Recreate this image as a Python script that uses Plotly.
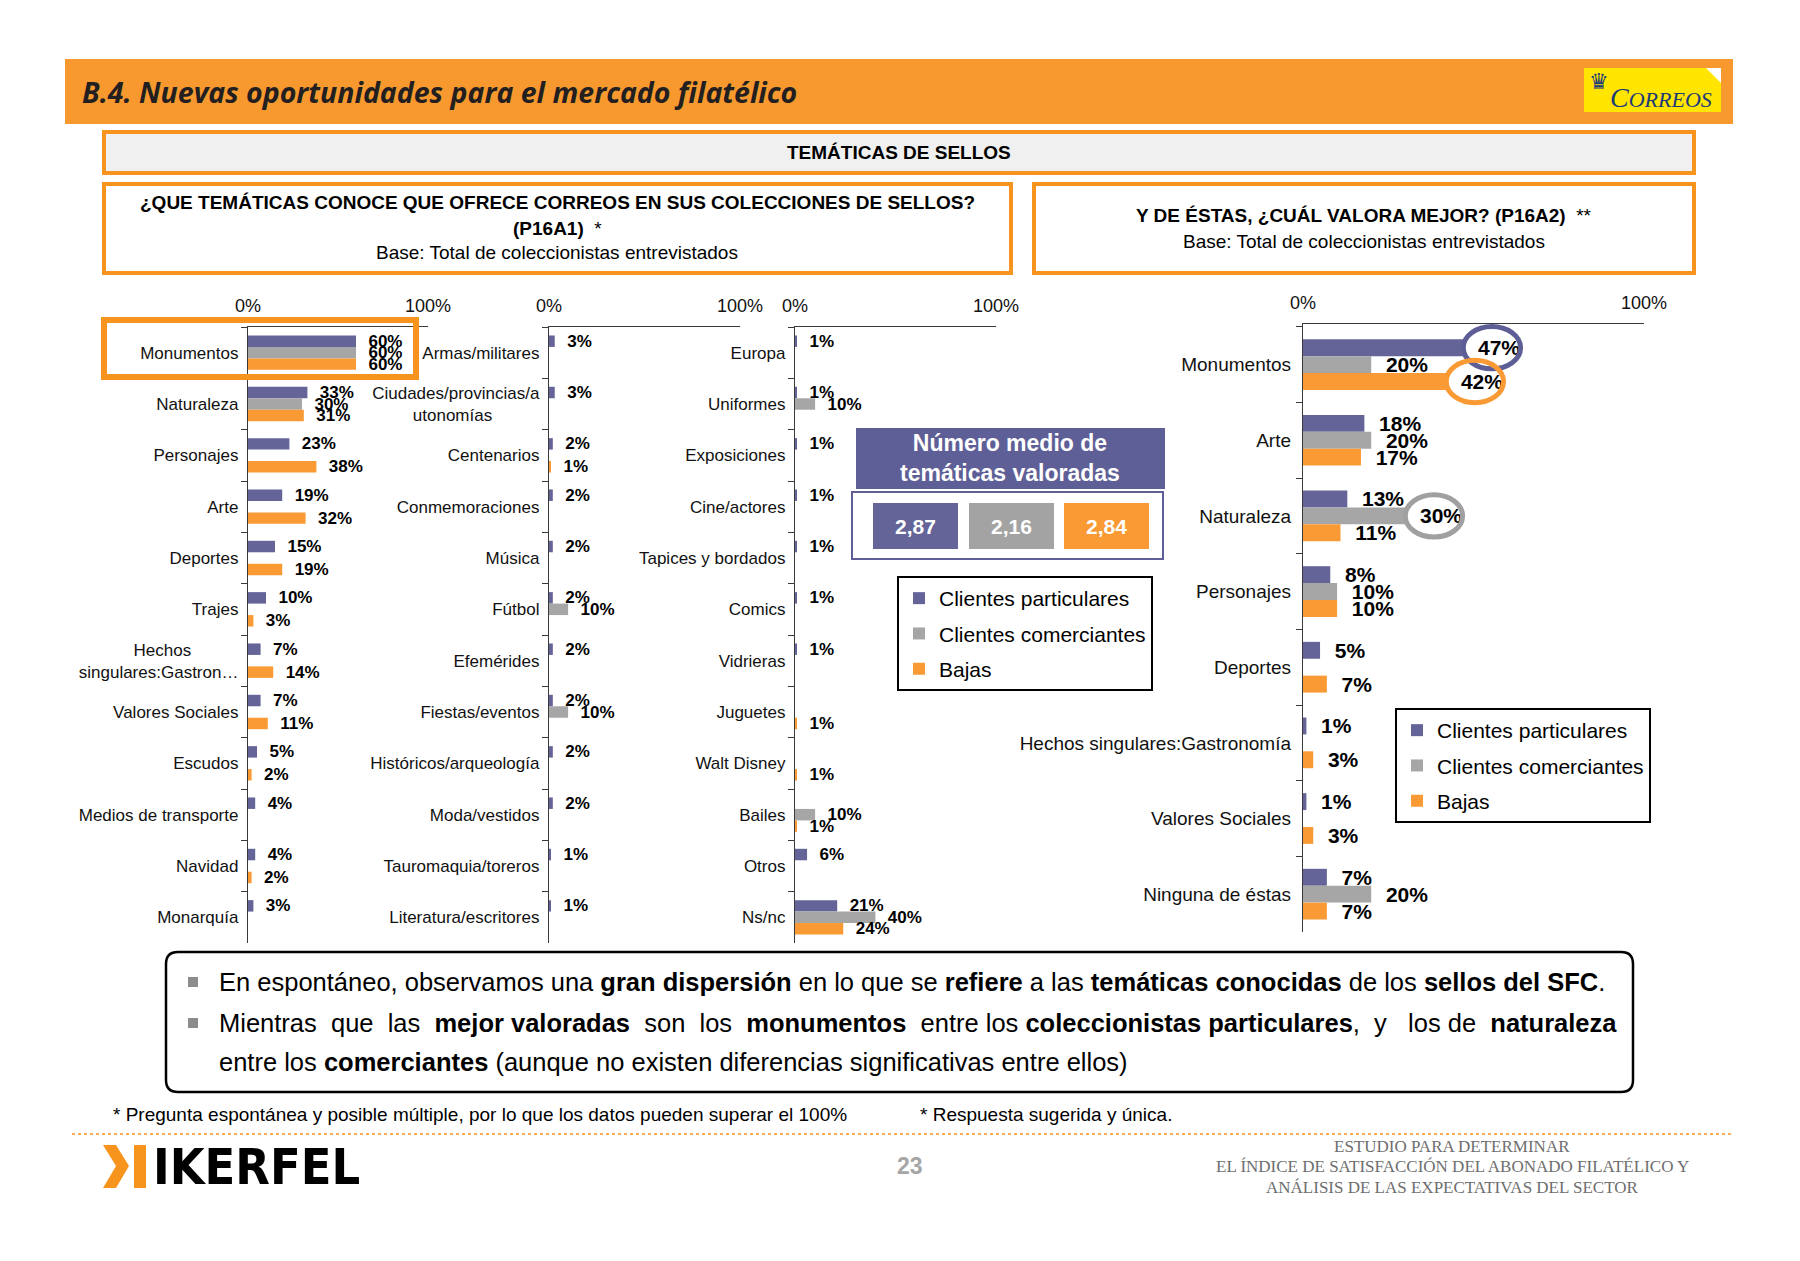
import plotly.graph_objects as go

W, H = 1800, 1261

# ---------------- data ----------------
series_names = ["Clientes particulares", "Clientes comerciantes", "Bajas"]

cats1 = ["Monumentos", "Naturaleza", "Personajes", "Arte", "Deportes", "Trajes",
         "Hechos\u00a0\u00a0\u00a0\u00a0\u00a0\u00a0\u00a0\u00a0\u00a0\u00a0<br>singulares:Gastron\u2026",
         "Valores Sociales", "Escudos", "Medios de transporte", "Navidad", "Monarquía"]
part1 = [60, 33, 23, 19, 15, 10, 7, 7, 5, 4, 4, 3]
com1 = [60, 30, 0, 0, 0, 0, 0, 0, 0, 0, 0, 0]
baj1 = [60, 31, 38, 32, 19, 3, 14, 11, 2, 0, 2, 0]

cats2 = ["Armas/militares",
         "Ciudades/provincias/a<br>utonomías\u00a0\u00a0\u00a0\u00a0\u00a0\u00a0\u00a0\u00a0\u00a0\u00a0",
         "Centenarios", "Conmemoraciones", "Música", "Fútbol", "Efemérides",
         "Fiestas/eventos", "Históricos/arqueología", "Moda/vestidos",
         "Tauromaquia/toreros", "Literatura/escritores"]
part2 = [3, 3, 2, 2, 2, 2, 2, 2, 2, 2, 1, 1]
com2 = [0, 0, 0, 0, 0, 10, 0, 10, 0, 0, 0, 0]
baj2 = [0, 0, 1, 0, 0, 0, 0, 0, 0, 0, 0, 0]

cats3 = ["Europa", "Uniformes", "Exposiciones", "Cine/actores", "Tapices y bordados",
         "Comics", "Vidrieras", "Juguetes", "Walt Disney", "Bailes", "Otros", "Ns/nc"]
part3 = [1, 1, 1, 1, 1, 1, 1, 0, 0, 0, 6, 21]
com3 = [0, 10, 0, 0, 0, 0, 0, 0, 0, 10, 0, 40]
baj3 = [0, 0, 0, 0, 0, 0, 0, 1, 1, 1, 0, 24]

cats4 = ["Monumentos", "Arte", "Naturaleza", "Personajes", "Deportes",
         "Hechos singulares:Gastronomía", "Valores Sociales", "Ninguna de éstas"]
part4 = [47, 18, 13, 8, 5, 1, 1, 7]
com4 = [20, 20, 30, 10, 0, 0, 0, 20]
baj4 = [42, 17, 11, 10, 7, 3, 3, 7]

medias = ["2,87", "2,16", "2,84"]
axis_ticks = ["0%", "100%"]

# ---------------- styles ----------------
PURPLE = "#646499"
GRAY = "#A6A6A6"
ORANGE = "#FA9A34"
BAND = "#F8992F"
BORDER = "#F7941D"
AX = "#3A3A3A"
ARIAL = "Liberation Sans, Arial, sans-serif"
COLORS = [PURPLE, GRAY, ORANGE]
BARGAP = 0.33


def px(x):
    return x / W


def py(y):
    return 1 - y / H


panels = [
    dict(cats=cats1, vals=[part1, com1, baj1], x0=248, x1=428, y0=327, y1=943, fs=17, lfs=17, lg="legend", show=True, so=5),
    dict(cats=cats2, vals=[part2, com2, baj2], x0=549, x1=740, y0=327, y1=943, fs=17, lfs=17, lg="legend", show=False, so=5),
    dict(cats=cats3, vals=[part3, com3, baj3], x0=795, x1=996, y0=327, y1=943, fs=17, lfs=17, lg="legend", show=False, so=5),
    dict(cats=cats4, vals=[part4, com4, baj4], x0=1303, x1=1644, y0=324, y1=932, fs=19, lfs=21, lg="legend2", show=True, so=7),
]

fig = go.Figure()
layout_axes = {}
for i, p in enumerate(panels):
    n = "" if i == 0 else str(i + 1)
    for s in range(3):
        v = p["vals"][s]
        fig.add_trace(go.Bar(
            y=p["cats"], x=[a / 100 for a in v], orientation="h",
            name=series_names[s], marker=dict(color=COLORS[s], line=dict(width=0)),
            text=["\u00a0\u00a0%d%%" % a if a else "" for a in v],
            textposition="outside", textangle=0, constraintext="none", cliponaxis=False,
            textfont=dict(family=ARIAL, size=p["lfs"], color="#000", weight="bold"),
            xaxis="x" + n, yaxis="y" + n, legend=p["lg"], legendgroup=p["lg"] + str(s),
            showlegend=p["show"], hoverinfo="skip",
        ))
    layout_axes["xaxis" + n] = dict(
        domain=[px(p["x0"]), px(p["x1"])], range=[0, 1], side="top", anchor="y" + n,
        tickmode="array", tickvals=[0, 1], ticktext=axis_ticks, ticks="inside", ticklen=6,
        tickcolor=AX, showline=True, linecolor=AX, linewidth=1.3, showgrid=False,
        zeroline=False, tickfont=dict(family=ARIAL, size=18, color="#111"),
        ticklabelstandoff=7, fixedrange=True, automargin=False,
    )
    layout_axes["yaxis" + n] = dict(
        domain=[py(p["y1"]), py(p["y0"])], anchor="x" + n, type="category",
        categoryorder="array", categoryarray=p["cats"], autorange="reversed",
        showline=True, linecolor=AX, linewidth=1.3, ticks="outside", tickson="boundaries",
        ticklen=6, tickcolor=AX, showgrid=False, zeroline=False,
        tickfont=dict(family=ARIAL, size=p["fs"], color="#111"), ticklabelstandoff=p["so"],
        fixedrange=True, automargin=False,
    )

shapes = []
annotations = []


def rect(x0, y0, x1, y1, line=None, lw=0, fill=None):
    shapes.append(dict(type="rect", xref="paper", yref="paper", x0=px(x0), x1=px(x1),
                       y0=py(y1), y1=py(y0), line=dict(color=line or "rgba(0,0,0,0)", width=lw),
                       fillcolor=fill or "rgba(0,0,0,0)", layer="above"))


def ann(x, y, text, size, color="#000", family=ARIAL, xanchor="center", bold=False, italic=False):
    annotations.append(dict(x=px(x), y=py(y), xref="paper", yref="paper", text=text,
                            showarrow=False, xanchor=xanchor, yanchor="middle",
                            font=dict(size=size, color=color, family=family,
                                      weight="bold" if bold else "normal",
                                      style="italic" if italic else "normal")))


# header band
rect(65, 59, 1733, 124, fill=BAND)
ann(80, 92, "B.4. Nuevas oportunidades para el mercado filatélico", 28.5, "#231F20",
    family="Open Sans, Lato, sans-serif", xanchor="left", bold=True, italic=True)
# Correos logo
rect(1584, 68, 1721, 112, fill="#FFE500")
shapes.append(dict(type="path", xref="paper", yref="paper",
                   path="M %f,%f L %f,%f L %f,%f Z" % (px(1706), py(68), px(1721), py(68), px(1721), py(83)),
                   fillcolor="#FFFFFF", line=dict(width=0)))
ann(1599, 82, "\u265B", 22, "#1C3A78", family="DejaVu Sans")
ann(1661, 98, "C<span style='font-size:22px'>ORREOS</span>", 28, "#1C3A78",
    family="Liberation Serif, serif", italic=True)

# TEMATICAS box
rect(104, 132, 1694, 173, line=BORDER, lw=4, fill="#F0F0F0")
ann(899, 152, "TEMÁTICAS DE SELLOS", 19, bold=True)
# question boxes
rect(104, 184, 1011, 273, line=BORDER, lw=4, fill="#FFFFFF")
ann(557, 203, "¿QUE TEMÁTICAS CONOCE QUE OFRECE CORREOS EN SUS COLECCIONES DE SELLOS?", 19, bold=True)
ann(557, 228, "<b>(P16A1)</b>  *", 19)
ann(557, 253, "Base: Total de coleccionistas entrevistados", 19)
rect(1034, 184, 1694, 273, line=BORDER, lw=4, fill="#FFFFFF")
ann(1364, 215, "<b>Y DE ÉSTAS, ¿CUÁL VALORA MEJOR? (P16A2)</b>  **", 19)
ann(1364, 242, "Base: Total de coleccionistas entrevistados", 19)

# highlight around Monumentos (chart 1)
shapes.append(dict(type="rect", xref="paper", yref="paper", x0=px(104), x1=px(416),
                   y0=py(377), y1=py(320), line=dict(color=BORDER, width=6), layer="above"))

# ellipses on chart 4 (data coordinates)
bw = (1 - BARGAP) / 3
ex = 0.168
eh = 0.28
hl = [(0, part4[0], -bw, "#5E5E96"), (0, baj4[0], bw, ORANGE), (2, com4[2], 0, "#A0A0A0")]
for idx, val, off, col in hl:
    shapes.append(dict(type="circle", xref="x4", yref="y4", x0=val / 100, x1=val / 100 + ex,
                       y0=idx + off - eh, y1=idx + off + eh, line=dict(color=col, width=5),
                       layer="above"))

# numero medio box
rect(856, 428, 1165, 489, fill="#5F5F97")
ann(1010, 458, "Número medio de<br>temáticas valoradas", 23, "#FFFFFF", bold=True)
rect(852, 492, 1163, 559, line="#5F5F97", lw=2)
for k, (xa, xb) in enumerate([(873, 958), (969, 1054), (1064, 1149)]):
    rect(xa, 503, xb, 549, fill=COLORS[k] if k != 1 else "#A3A3A3")
    ann((xa + xb) / 2, 526, medias[k], 21, "#FFFFFF", bold=True)

# conclusion box (rounded)
bx0, by0, bx1, by1, r = 166, 952, 1633, 1092, 12
path = ("M {a},{b} L {c},{b} Q {d},{b} {d},{e} L {d},{f} Q {d},{g} {c},{g} "
        "L {a},{g} Q {h},{g} {h},{f} L {h},{e} Q {h},{b} {a},{b} Z").format(
    a=px(bx0 + r), b=py(by0), c=px(bx1 - r), d=px(bx1), e=py(by0 + r),
    f=py(by1 - r), g=py(by1), h=px(bx0))
shapes.append(dict(type="path", xref="paper", yref="paper", path=path,
                   line=dict(color="#000", width=2.5), fillcolor="rgba(0,0,0,0)"))
for yb in (982, 1023):
    rect(188, yb - 5, 198, yb + 5, fill="#8C8C8C")
NB = "\u00a0"
ann(217, 982, "En espontáneo, observamos una <b>gran dispersión</b> en lo que se <b>refiere</b> a las "
    "<b>temáticas conocidas</b> de los <b>sellos del SFC</b>.", 25.5, xanchor="left")
ann(217, 1023, "Mientras" + NB + " que" + NB + " las" + NB + " <b>mejor valoradas</b>" + NB + " son" + NB +
    " los" + NB + " <b>monumentos</b>" + NB + " entre los <b>coleccionistas particulares</b>," + NB +
    " y" + NB + " " + NB + "los de" + NB + " <b>naturaleza</b>", 25.5, xanchor="left")
ann(217, 1062, "entre los <b>comerciantes</b> (aunque no existen diferencias significativas entre ellos)",
    25.5, xanchor="left")

# footnotes
ann(111, 1114, "* Pregunta espontánea y posible múltiple, por lo que los datos pueden superar el 100%",
    19, xanchor="left")
ann(918, 1114, "* Respuesta sugerida y única.", 19, xanchor="left")

# footer
shapes.append(dict(type="line", xref="paper", yref="paper", x0=px(72), x1=px(1733),
                   y0=py(1134), y1=py(1134), line=dict(color=BORDER, width=1.5, dash="dot")))
chev = "M {},{} L {},{} L {},{} L {},{} L {},{} L {},{} Z".format(
    px(103), py(1145), px(116), py(1145), px(129), py(1166),
    px(116), py(1188), px(103), py(1188), px(116), py(1166))
shapes.append(dict(type="path", xref="paper", yref="paper", path=chev,
                   fillcolor="#F7941D", line=dict(width=0)))
rect(134, 1145, 146, 1188, fill="#F7941D")
ann(151, 1167, "IKERFEL", 50, "#000",
    family="Liberation Sans Narrow, DejaVu Sans Condensed, sans-serif", xanchor="left", bold=True)
ann(910, 1166, "23", 23, "#A6A6A6", bold=True)
ann(1452, 1146, "ESTUDIO PARA DETERMINAR", 17, "#6E6E6E", family="Liberation Serif, serif")
ann(1452, 1166, "EL ÍNDICE DE SATISFACCIÓN DEL ABONADO FILATÉLICO Y", 17, "#6E6E6E",
    family="Liberation Serif, serif")
ann(1452, 1187, "ANÁLISIS DE LAS EXPECTATIVAS DEL SECTOR", 17, "#6E6E6E",
    family="Liberation Serif, serif")

legend_style = dict(xanchor="left", yanchor="top", bordercolor="#000", borderwidth=2,
                    bgcolor="#FFFFFF", font=dict(family=ARIAL, size=21, color="#000"),
                    traceorder="grouped", tracegroupgap=5, itemclick=False,
                    itemdoubleclick=False)

fig.update_layout(
    width=W, height=H, margin=dict(l=0, r=0, t=0, b=0, pad=0, autoexpand=False),
    paper_bgcolor="#FFFFFF", plot_bgcolor="rgba(0,0,0,0)",
    barmode="group", bargap=BARGAP, bargroupgap=0,
    showlegend=True,
    legend=dict(x=px(897), y=py(576), **legend_style),
    legend2=dict(x=px(1395), y=py(708), **legend_style),
    shapes=shapes, annotations=annotations,
    font=dict(family=ARIAL),
    **layout_axes,
)

fig.write_html("out.html", config={"displayModeBar": False},
               post_script="document.body.style.margin='0';document.body.style.overflow='hidden';")
